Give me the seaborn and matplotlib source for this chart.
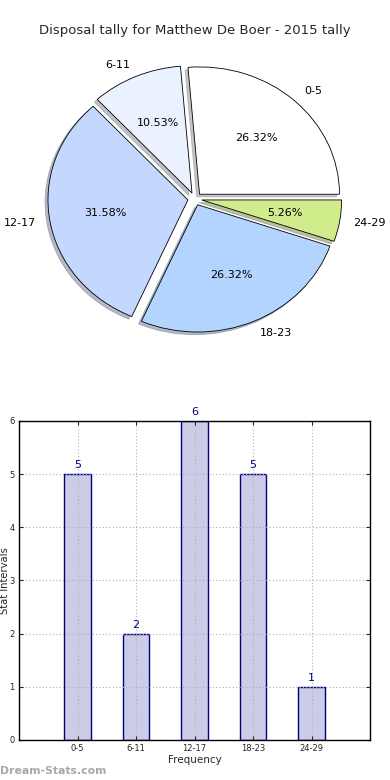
import numpy as np
import pandas as pd
import matplotlib
matplotlib.use("Agg")
import matplotlib.pyplot as plt
import seaborn as sns

# data
intervals = ["0-5", "6-11", "12-17", "18-23", "24-29"]
counts = [5, 2, 6, 5, 1]
pie_colors = ["#FFFFFF", "#EAF1FF", "#C4D8FF", "#B3D4FF", "#D0EC8B"]
title = "Disposal tally for Matthew De Boer - 2015 tally"

sns.set_style("white")
plt.rcParams["font.family"] = ["DejaVu Sans"]

fig = plt.figure(figsize=(3.9, 7.8), dpi=100)

# pie
ax1 = fig.add_axes([0.051, 0.541, 0.897, 0.408])
wedges, texts, autotexts = ax1.pie(
    counts, labels=intervals, colors=pie_colors, explode=[0.05] * len(counts),
    autopct="%.2f%%", shadow={"ox": -0.015, "oy": -0.015, "shade": 0.45},
    startangle=0, labeldistance=1.1,
    wedgeprops=dict(edgecolor="black", linewidth=0.6),
    textprops=dict(fontsize=8, color="black"))
ax1.set_aspect("auto")
ax1.set_xlim(-1.25, 1.25)
ax1.set_ylim(-1.25, 1.25)
fig.text(0.5, 0.961, title, ha="center", va="center", fontsize=9.5)

# bars
ax2 = fig.add_axes([0.0487, 0.0513, 0.9003, 0.409])
df = pd.DataFrame({"interval": intervals, "count": counts})
sns.barplot(data=df, x="interval", y="count", ax=ax2, color="#CCCCE6",
            saturation=1, width=0.45, edgecolor="#000080", linewidth=1)
ax2.set_xlim(-1, 5)
ax2.set_ylim(0, 6)
ax2.set_yticks(range(0, 7))
ax2.grid(True, linestyle=(0, (1, 2)), color="#B0B0B0", linewidth=0.8)
ax2.set_axisbelow(False)
for p in ax2.patches:
    p.set_zorder(1)
ax2.tick_params(axis="both", labelsize=6, direction="in", length=3,
                top=True, right=True, bottom=True, left=True, pad=3)
for s in ax2.spines.values():
    s.set_visible(True)
    s.set_color("black")
    s.set_linewidth(1)
    s.set_zorder(4)
ax2.set_xlabel("Frequency", fontsize=7.5, labelpad=1)
ax2.set_ylabel("Stat Intervals", fontsize=7.2, labelpad=0)
ax2.yaxis.set_label_coords(-0.025, 0.5)
for i, v in enumerate(counts):
    ax2.text(i, v + 0.07, str(v), ha="center", va="bottom", fontsize=8,
             color="#000080", clip_on=False)

fig.text(0.0, 0.012, "Dream-Stats.com", fontsize=7.8, color="#A8A8A8",
         fontweight="bold", ha="left", va="center")

fig.savefig("out.png", dpi=100)
